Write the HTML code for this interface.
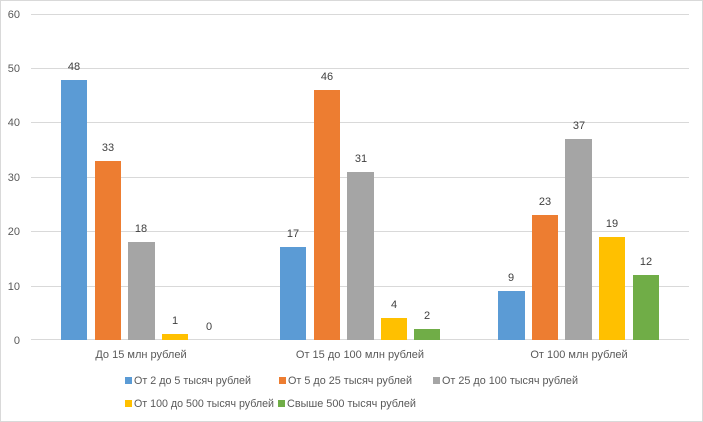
<!DOCTYPE html>
<html><head><meta charset="utf-8"><style>
html,body{margin:0;padding:0;background:#fff}
svg{display:block;font-family:"Liberation Sans","DejaVu Sans",sans-serif}
</style></head><body>
<svg width="703" height="422" xmlns="http://www.w3.org/2000/svg">
<rect x="0.5" y="0.5" width="702" height="421" fill="#fff" stroke="#d9d9d9"/>
<g stroke="#d9d9d9" stroke-width="1">
<line x1="31" x2="689" y1="14.5" y2="14.5"/>
<line x1="31" x2="689" y1="68.5" y2="68.5"/>
<line x1="31" x2="689" y1="122.5" y2="122.5"/>
<line x1="31" x2="689" y1="177.5" y2="177.5"/>
<line x1="31" x2="689" y1="231.5" y2="231.5"/>
<line x1="31" x2="689" y1="286.5" y2="286.5"/>
<line x1="31" x2="689" y1="339.5" y2="339.5"/>
</g>
<g fill="#595959" font-size="11" text-anchor="end">
<text x="20" y="18">60</text><text x="20" y="72">50</text><text x="20" y="126">40</text>
<text x="20" y="181">30</text><text x="20" y="235">20</text><text x="20" y="290">10</text><text x="20" y="344">0</text>
</g>
<g>
<rect x="61" y="80" width="26" height="260" fill="#5B9BD5"/>
<rect x="95" y="161" width="26" height="179" fill="#ED7D31"/>
<rect x="128" y="242" width="27" height="98" fill="#A5A5A5"/>
<rect x="162" y="334" width="26" height="6" fill="#FFC000"/>
<rect x="280" y="247" width="26" height="93" fill="#5B9BD5"/>
<rect x="314" y="90" width="26" height="250" fill="#ED7D31"/>
<rect x="347" y="172" width="27" height="168" fill="#A5A5A5"/>
<rect x="381" y="318" width="26" height="22" fill="#FFC000"/>
<rect x="414" y="329" width="26" height="11" fill="#70AD47"/>
<rect x="498" y="291" width="27" height="49" fill="#5B9BD5"/>
<rect x="532" y="215" width="26" height="125" fill="#ED7D31"/>
<rect x="565" y="139" width="27" height="201" fill="#A5A5A5"/>
<rect x="599" y="237" width="26" height="103" fill="#FFC000"/>
<rect x="633" y="275" width="26" height="65" fill="#70AD47"/>
</g>
<g fill="#404040" font-size="11" text-anchor="middle">
<text x="74" y="70">48</text><text x="108" y="151">33</text><text x="141" y="232">18</text><text x="175" y="324">1</text><text x="209" y="330">0</text>
<text x="293" y="237">17</text><text x="327" y="80">46</text><text x="361" y="162">31</text><text x="394" y="308">4</text><text x="427" y="319">2</text>
<text x="511" y="281">9</text><text x="545" y="205">23</text><text x="579" y="129">37</text><text x="612" y="227">19</text><text x="646" y="265">12</text>
</g>
<g fill="#595959" font-size="11" text-anchor="middle">
<text x="141" y="358">До 15 млн рублей</text>
<text x="360" y="358">От 15 до 100 млн рублей</text>
<text x="579" y="358">От 100 млн  рублей</text>
</g>
<g fill="#595959" font-size="11">
<rect x="125" y="377" width="7" height="7" fill="#5B9BD5"/><text x="134" y="384" textLength="117" lengthAdjust="spacingAndGlyphs">От 2 до 5 тысяч рублей</text>
<rect x="279" y="377" width="7" height="7" fill="#ED7D31"/><text x="288" y="384" textLength="124" lengthAdjust="spacingAndGlyphs">От 5 до 25 тысяч рублей</text>
<rect x="433" y="377" width="7" height="7" fill="#A5A5A5"/><text x="442" y="384" textLength="136" lengthAdjust="spacingAndGlyphs">От 25 до 100 тысяч рублей</text>
<rect x="125" y="400" width="7" height="7" fill="#FFC000"/><text x="134" y="407" textLength="140" lengthAdjust="spacingAndGlyphs">От 100 до 500 тысяч рублей</text>
<rect x="278" y="400" width="7" height="7" fill="#70AD47"/><text x="287" y="407" textLength="129" lengthAdjust="spacingAndGlyphs">Свыше 500 тысяч рублей</text>
</g>
</svg>
</body></html>
